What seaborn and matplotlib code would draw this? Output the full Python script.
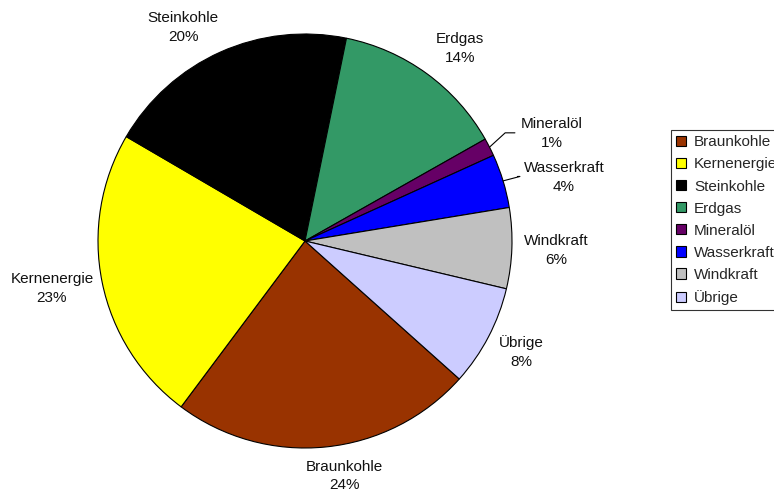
import numpy as np
import matplotlib
matplotlib.use("Agg")
import matplotlib.pyplot as plt
import seaborn as sns
from matplotlib.patches import Patch

sns.set_theme(style="white")
plt.rcParams['font.family'] = ['Liberation Sans', 'DejaVu Sans']

categories = ["Braunkohle", "Kernenergie", "Steinkohle", "Erdgas",
              "Mineralöl", "Wasserkraft", "Windkraft", "Übrige"]
values = [23.6, 23.2, 19.8, 13.6, 1.4, 4.2, 6.3, 7.9]
pct_labels = ["24%", "23%", "20%", "14%", "1%", "4%", "6%", "8%"]
colors = ["#993300", "#FFFF00", "#000000", "#339966",
          "#660066", "#0000FF", "#C0C0C0", "#CCCCFF"]

# label placement (layout only)
label_r = [1.151, 1.244, 1.188, 1.192, 1.30, 1.288, 1.213, 1.173]
label_da = [3.8, -0.8, 5.6, -2.8, -3.5, -3.1, -0.2, 0.5]
leader = [False, False, False, False, True, True, False, False]

W, H = 774, 491
fig = plt.figure(figsize=(W / 100, H / 100), dpi=100)
R = 207.0
cx, cy = 305.0, 491 - 241.0
xr, yr = 1.45, 1.18
ax = fig.add_axes([(cx - xr * R) / W, (cy - yr * R) / H, 2 * xr * R / W, 2 * yr * R / H])

start = -41.8
wedges, _ = ax.pie(values, colors=colors, startangle=start, counterclock=False,
                   wedgeprops=dict(edgecolor="black", linewidth=0.8))
ax.set_xlim(-xr, xr)
ax.set_ylim(-yr, yr)
ax.set_aspect("auto")

texts = []
for i, w in enumerate(wedges):
    mid = (w.theta1 + w.theta2) / 2.0
    a = np.deg2rad(mid + label_da[i])
    tx, ty = label_r[i] * np.cos(a), label_r[i] * np.sin(a)
    t = ax.text(tx, ty, f"{categories[i]}\n{pct_labels[i]}", ha="center", va="center",
                fontsize=11, linespacing=1.45, color="#111111")
    texts.append((t, mid, tx, ty))

fig.canvas.draw()
renderer = fig.canvas.get_renderer()
for i, (t, mid, tx, ty) in enumerate(texts):
    if not leader[i]:
        continue
    bb = t.get_window_extent(renderer)
    left_data = ax.transData.inverted().transform((bb.x0 - 6, bb.y0))[0]
    am = np.deg2rad(mid)
    p0 = (np.cos(am), np.sin(am))
    p1 = (1.085 * np.cos(am), ty + 0.005)
    p2 = (left_data, ty + 0.005)
    ax.plot([p0[0], p1[0], p2[0]], [p0[1], p1[1], p2[1]], color="black", lw=0.8)

handles = [Patch(facecolor=c, edgecolor="black", linewidth=0.8) for c in colors]
leg = fig.legend(handles, categories, loc="upper left", bbox_to_anchor=(671 / W, 1 - 130 / H),
                 frameon=True, fancybox=False, fontsize=11, handlelength=0.65, handleheight=0.65,
                 handletextpad=0.5, labelspacing=0.53, borderpad=0.35, borderaxespad=0)
leg.get_frame().set_edgecolor("black")
leg.get_frame().set_linewidth(0.8)

fig.savefig("out.png", dpi=100)
